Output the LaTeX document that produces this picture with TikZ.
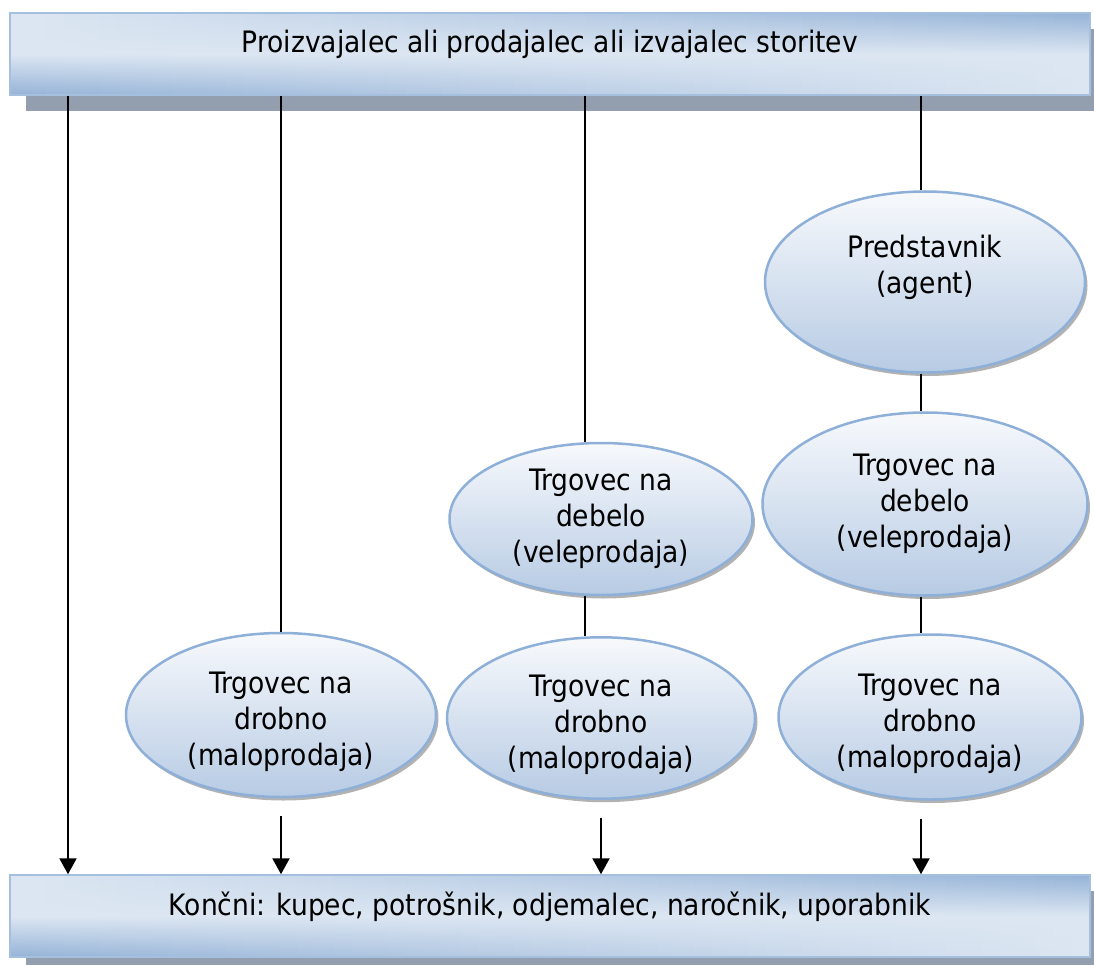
\documentclass[tikz,border=0pt]{standalone}
\usepackage{fontspec}
\setmainfont{DejaVu Sans Condensed}
\usetikzlibrary{positioning, arrows.meta, shapes.geometric, shadows, calc, backgrounds}
\definecolor{boxlight}{HTML}{DCE6F2}
\definecolor{boxdark}{HTML}{95B3D7}
\definecolor{boxline}{HTML}{A5BFDF}
\definecolor{boxshade}{HTML}{939FAE}
\definecolor{ovaltop}{HTML}{F7F9FC}
\definecolor{ovalbot}{HTML}{B7CBE4}
\definecolor{ovalline}{HTML}{8DAFD8}

\begin{document}
\begin{tikzpicture}[x=1pt, y=-1pt, font=\fontsize{29.5}{36}\selectfont,
	bar/.style={draw=boxline, line width=1.5pt, fill=boxlight,
		minimum width=1080pt, minimum height=82pt, inner sep=0pt, text height=20pt, text depth=22pt,
		path picture={\foreach \i in {0,...,59}{
			\pgfmathtruncatemacro\p{100*\i/59}
			\shade[top color=boxdark!\p!boxlight, bottom color=boxlight!\p!boxdark, middle color=boxlight]
				($(path picture bounding box.south west)!\i/60!(path picture bounding box.south east)$) rectangle
				($(path picture bounding box.north west)!\i/60+0.02!(path picture bounding box.north east)$);}}},
	oval/.style={ellipse, draw=ovalline, line width=2.5pt, top color=ovaltop, bottom color=ovalbot,
		drop shadow={shadow xshift=2.5pt, shadow yshift=-3.5pt, fill=black!60, opacity=.5},
		align=center, inner sep=0pt},
	low/.style={text height=108pt},
	link/.style={line width=1.5pt},
	arr/.style={line width=2.2pt, -{Triangle[width=17pt,length=16pt]}}]
		\useasboundingbox (0,0) rectangle (1094,965);

		% Top and bottom bars
		\node (prod) at (550,54) [bar] {Proizvajalec ali prodajalec ali izvajalec storitev};
		\node (kup) at (550,916) [bar] {Končni: kupec, potrošnik, odjemalec, naročnik, uporabnik};
		\begin{scope}[on background layer]
			\fill[boxshade] ([xshift=17pt,yshift=-15pt]prod.south west) rectangle ([xshift=4pt,yshift=-17pt]prod.north east);
			\fill[boxshade] ([xshift=17pt,yshift=-15pt]kup.south west) rectangle ([xshift=4pt,yshift=-17pt]kup.north east);
		\end{scope}

		% Intermediaries
		\node (r1) at (281,715) [oval, low, minimum width=310pt, minimum height=164pt] {Trgovec na\\drobno\\(maloprodaja)};
		\node (w2) at (601,519) [oval, minimum width=303pt, minimum height=152pt] {Trgovec na\\debelo\\(veleprodaja)};
		\node (r2) at (601,718) [oval, low, minimum width=308pt, minimum height=157pt] {Trgovec na\\drobno\\(maloprodaja)};
		\node (a3) at (925,282) [oval, minimum width=320pt, minimum height=181pt] {Predstavnik\\(agent)\\\mbox{}};
		\node (w3) at (925,504) [oval, minimum width=325pt, minimum height=183pt] {Trgovec na\\debelo\\(veleprodaja)};
		\node (r3) at (930,717) [oval, low, minimum width=303pt, minimum height=165pt] {Trgovec na\\drobno\\(maloprodaja)};

		% Channels
		\draw[arr] (prod.south -| 68,0) -- (kup.north -| 68,0);

		\draw[link] (prod.south -| 281,0) -- (r1.north);
		\draw[arr] (r1.south) ++(0,18) -- (kup.north -| r1.south);

		\draw[link] (prod.south -| 585,0) -- (w2.north -| 585,0);
		\draw[link] (w2.south -| 585,0) -- (r2.north -| 585,0);
		\draw[arr] (r2.south) ++(0,18) -- (kup.north -| r2.south);

		\draw[link] (prod.south -| 921,0) -- (a3.north -| 921,0);
		\draw[link] (a3.south -| 921,0) -- (w3.north -| 921,0);
		\draw[link] (w3.south -| 921,0) -- (r3.north -| 921,0);
		\draw[arr] (r3.south -| 921,0) ++(0,18) -- (kup.north -| 921,0);
\end{tikzpicture}
\end{document}
